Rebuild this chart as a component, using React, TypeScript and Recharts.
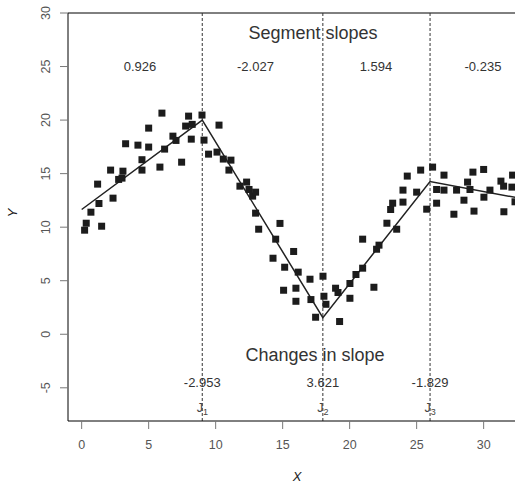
import React from 'react';
import { ComposedChart, Scatter, Line, XAxis, YAxis, ReferenceLine, ReferenceDot } from 'recharts';

const pointX = [0.22, 0.34, 0.69, 1.19, 1.29, 1.49, 2.16, 2.34, 2.76, 3.01, 3.08, 3.28, 4.2, 4.5, 4.5, 5.0, 5.0, 5.84, 5.99, 6.19,
  6.81, 7.04, 7.46, 7.76, 7.98, 8.18, 8.25, 8.98, 9.13, 9.47, 10.1, 10.25, 10.57, 10.99, 11.14, 11.81, 12.31, 12.49, 12.76, 12.98,
  12.98, 13.21, 14.28, 14.48, 14.8, 15.07, 15.15, 15.82, 15.99, 15.99, 16.16, 17.04, 17.11, 17.46, 18.01, 18.08, 18.23, 18.95, 19.13, 19.25,
  20.02, 20.02, 20.47, 20.97, 20.97, 21.81, 22.01, 22.19, 22.78, 23.06, 23.21, 23.51, 23.98, 23.98, 24.3, 25.0, 25.3, 25.75, 26.19, 26.49,
  26.49, 27.04, 27.04, 27.78, 27.98, 28.53, 28.8, 28.98, 29.2, 29.28, 30.0, 30.02, 30.47, 31.29, 31.49, 31.51, 32.16, 32.11, 32.34];
const pointY = [9.72, 10.37, 11.4, 14.02, 12.21, 10.09, 15.33, 12.71, 14.46, 14.58, 15.23, 17.79, 17.66, 16.3, 15.33, 17.48, 19.25, 15.61, 20.65, 17.29,
  18.5, 18.1, 16.07, 19.44, 20.37, 18.22, 19.6, 20.47, 18.13, 16.82, 17.01, 19.53, 16.36, 15.33, 16.26, 13.83, 14.21, 13.52, 12.9, 13.27,
  11.31, 9.81, 7.1, 8.88, 10.35, 4.11, 6.26, 7.73, 4.3, 3.08, 5.8, 5.14, 3.24, 1.59, 5.42, 3.55, 2.8, 4.3, 3.9, 1.19,
  4.74, 3.36, 5.58, 6.17, 8.88, 4.39, 7.94, 8.32, 10.37, 11.65, 12.24, 9.81, 12.34, 13.46, 14.77, 13.27, 15.33, 11.68, 15.61, 13.52,
  12.24, 14.86, 13.46, 11.21, 13.46, 12.52, 14.21, 13.52, 15.14, 11.5, 15.39, 12.8, 13.46, 14.3, 13.83, 11.44, 14.86, 13.74, 12.37];

const fitX = [0, 9, 18, 26, 33];
const fitY = [11.65, 20.0, 1.55, 14.27, 12.63];

const joinX = [9, 18, 26];
const slopeLabels = ['0.926', '-2.027', '1.594', '-0.235'];
const slopeLabelX = [4.35, 12.97, 21.96, 29.95];
const changeLabels = ['-2.953', '3.621', '-1.829'];
const xTicks = [0, 5, 10, 15, 20, 25, 30];
const yTicks = [-5, 0, 5, 10, 15, 20, 25, 30];

const points = pointX.map((x, i) => ({ x, y: pointY[i] }));
const fit = fitX.map((x, i) => ({ x, y: fitY[i] }));

const FONT = '"Liberation Sans", Arial, sans-serif';

const XTick = (p: any) => (
  <text x={p.x} y={p.y + 20} textAnchor="middle" fontSize={12.5} fill="#555" fontFamily={FONT}>
    {p.payload.value}
  </text>
);
const YTick = (p: any) => (
  <text transform={`translate(${p.x - 10},${p.y}) rotate(-90)`} textAnchor="middle" fontSize={12.5} fill="#555" fontFamily={FONT}>
    {p.payload.value}
  </text>
);

const Square = (p: any) => (
  <rect x={p.cx - 3.5} y={p.cy - 3.5} width={7} height={7} fill="#1c1c1c" />
);

const textShape = (txt: string, size: number) => (p: any) => (
  <text x={p.cx} y={p.cy} textAnchor="middle" fontSize={size} fill="#333" fontFamily={FONT}>{txt}</text>
);
const jShape = (i: number) => (p: any) => (
  <text x={p.cx} y={p.cy} textAnchor="middle" fontSize={12.5} fill="#444" fontFamily={FONT}>
    J<tspan fontSize={9} dy={3}>{i + 1}</tspan>
  </text>
);

export default function App() {
  return (
    <div style={{ position: 'absolute', left: 0, top: 0, width: 515, height: 484, overflow: 'hidden', background: '#fff', fontFamily: FONT }}>
      <ComposedChart width={515} height={484} margin={{ top: 13, right: 0, bottom: 0, left: 0 }}>
        <XAxis
          dataKey="x"
          type="number"
          domain={[-1.02, 32.34]}
          allowDataOverflow
          ticks={xTicks}
          tick={<XTick />}
          tickSize={8}
          tickMargin={0}
          height={63}
          axisLine={{ stroke: '#000', strokeWidth: 1 }}
          tickLine={{ stroke: '#777' }}
          label={{ content: () => <text x={297} y={480.5} textAnchor="middle" fontSize={13} fontStyle="italic" fill="#222" fontFamily={FONT}>X</text> }}
        />
        <YAxis
          dataKey="y"
          type="number"
          domain={[-8.1, 30]}
          allowDataOverflow
          ticks={yTicks}
          tick={<YTick />}
          tickSize={8}
          tickMargin={0}
          width={68}
          axisLine={{ stroke: '#000', strokeWidth: 1 }}
          tickLine={{ stroke: '#777' }}
          label={{ content: () => <text transform="translate(16.5,213) rotate(-90)" textAnchor="middle" fontSize={13} fontStyle="italic" fill="#222" fontFamily={FONT}>Y</text> }}
        />
        <ReferenceLine y={30} stroke="#000" strokeWidth={1} />
        {joinX.map((x) => (
          <ReferenceLine key={x} x={x} stroke="#333" strokeWidth={1} strokeDasharray="3 2" />
        ))}
        <Scatter data={points} dataKey="y" shape={<Square />} isAnimationActive={false} />
        <Line data={fit} dataKey="y" stroke="#222" strokeWidth={1.5} dot={false} isAnimationActive={false} />
        <ReferenceDot x={17.26} y={27.61} r={1} shape={textShape('Segment slopes', 18)} />
        {slopeLabels.map((s, i) => (
          <ReferenceDot key={s} x={slopeLabelX[i]} y={24.58} r={1} shape={textShape(s, 13)} />
        ))}
        <ReferenceDot x={17.41} y={-2.52} r={1} shape={textShape('Changes in slope', 18)} />
        {changeLabels.map((s, i) => (
          <ReferenceDot key={s} x={joinX[i]} y={-4.92} r={1} shape={textShape(s, 13)} />
        ))}
        {joinX.map((x, i) => (
          <ReferenceDot key={'j' + x} x={x} y={-7.27} r={1} shape={jShape(i)} />
        ))}
      </ComposedChart>
    </div>
  );
}
